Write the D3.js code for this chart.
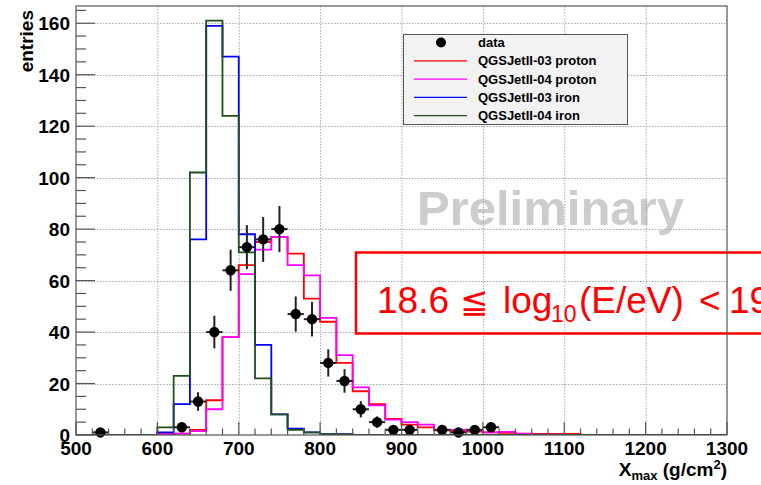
<!DOCTYPE html>
<html>
<head>
<meta charset="utf-8">
<script src="https://cdn.jsdelivr.net/npm/d3@7"></script>
<style>
  body { margin: 0; background: #fff; }
  svg { display: block; }
  .tick-label { font-family: "Liberation Sans", Arial, sans-serif; font-weight: bold; font-size: 19px; fill: #000; }
</style>
</head>
<body>
<script>
// binning of the histograms (g/cm2)
const binWidth = 20;
const histLow = 600; // lower edge of first value in the arrays below

// simulated Xmax distributions, bins 600-620, 620-640, ...
const proton03 = [0.3, 0.5, 2, 13.5, 38, 66, 75, 77, 70.5, 53, 44, 28, 17, 12, 6.3, 4, 3, 1.8, 1.5, 1.3, 1, 0.8, 0.5, 0.4, 0.4, 0.4];
const proton04 = [0.2, 0.5, 1.5, 10, 38, 62.5, 72, 77, 66, 62, 45.5, 31, 18.5, 11.5, 6, 5, 4, 2, 2, 1.7, 1, 1.2, 0.4, 0.1, 0.1, 0];
const iron03 = [1, 12, 76, 159, 147, 78, 35, 8, 2.5, 1, 0.3, 0.3];
const iron04 = [3, 23, 102, 161, 124, 71, 22, 8, 2, 1, 0.3, 0.2];

// data points (bin centres and entries)
const dataX = [530, 630, 650, 670, 690, 710, 730, 750, 770, 790, 810, 830, 850, 870, 890, 910, 950, 970, 990, 1010];
const dataN = [1, 3, 13, 40, 64, 73, 76, 80, 47, 45, 28, 21, 10, 5, 2, 2, 2, 1, 2, 3];

const xTicks = [500, 600, 700, 800, 900, 1000, 1100, 1200, 1300];
const yTicks = [0, 20, 40, 60, 80, 100, 120, 140, 160];

const series = [
  { name: "QGSJetII-03 proton", values: proton03, color: "#ff0000" },
  { name: "QGSJetII-04 proton", values: proton04, color: "#ff00ff" },
  { name: "QGSJetII-03 iron", values: iron03, color: "#0000ff" },
  { name: "QGSJetII-04 iron", values: iron04, color: "#1f4f1f" }
];

const W = 761, H = 485;
const frame = { left: 76, right: 727, top: 6, bottom: 435 };

const x = d3.scaleLinear().domain([500, 1300]).range([frame.left, frame.right]);
const y = d3.scaleLinear().domain([0, 166.7]).range([frame.bottom, frame.top]);

const svg = d3.select("body").append("svg")
  .attr("width", W).attr("height", H);

svg.append("defs").append("clipPath").attr("id", "plot")
  .append("rect")
  .attr("x", frame.left).attr("y", frame.top)
  .attr("width", frame.right - frame.left).attr("height", frame.bottom - frame.top);

// watermark
svg.append("text")
  .attr("x", 417).attr("y", 225)
  .attr("font-family", "Liberation Sans, Arial, sans-serif")
  .attr("font-weight", "bold")
  .attr("font-size", 49)
  .attr("fill", "#cccccc")
  .text("Preliminary");

// dotted grid
const grid = svg.append("g").attr("stroke", "#a8a8a8").attr("stroke-width", 1).attr("stroke-dasharray", "1.5,1.5");
grid.selectAll(".gx").data(xTicks.slice(1, -1)).join("line")
  .attr("x1", d => x(d) + 0.5).attr("x2", d => x(d) + 0.5)
  .attr("y1", frame.top).attr("y2", frame.bottom);
grid.selectAll(".gy").data(yTicks.slice(1)).join("line")
  .attr("x1", frame.left).attr("x2", frame.right)
  .attr("y1", d => Math.round(y(d)) + 0.5).attr("y2", d => Math.round(y(d)) + 0.5);

// histograms as step lines over the full axis range
const nBins = (1300 - 500) / binWidth;
const offset = (histLow - 500) / binWidth;
const stepLine = d3.line().x(d => x(d[0])).y(d => y(d[1])).curve(d3.curveStepAfter);

const hists = svg.append("g").attr("clip-path", "url(#plot)");
series.forEach(function (s) {
  let full = d3.range(nBins).map(i => [500 + i * binWidth, s.values[i - offset] || 0]);
  full.push([1300, full[full.length - 1][1]]);
  hists.append("path")
    .datum(full)
    .attr("d", stepLine)
    .attr("fill", "none")
    .attr("stroke", s.color)
    .attr("stroke-width", 1.8);
});

// data with errors
const points = dataX.map((d, i) => ({ x: d, n: dataN[i] }));
const pts = svg.append("g");
pts.selectAll(".ex").data(points).join("line")
  .attr("x1", d => x(d.x - binWidth / 2)).attr("x2", d => x(d.x + binWidth / 2))
  .attr("y1", d => y(d.n)).attr("y2", d => y(d.n))
  .attr("stroke", "#222").attr("stroke-width", 2);
pts.selectAll(".ey").data(points).join("line")
  .attr("x1", d => x(d.x)).attr("x2", d => x(d.x))
  .attr("y1", d => y(d.n + Math.sqrt(d.n))).attr("y2", d => y(Math.max(0, d.n - Math.sqrt(d.n))))
  .attr("stroke", "#222").attr("stroke-width", 2);
pts.selectAll("circle").data(points).join("circle")
  .attr("cx", d => x(d.x)).attr("cy", d => y(d.n))
  .attr("r", 5.2).attr("fill", "#000");

// legend
const leg = svg.append("g").attr("font-family", "Liberation Sans, Arial, sans-serif")
  .attr("font-weight", "bold").attr("font-size", 13);
leg.append("rect")
  .attr("x", 403.5).attr("y", 34.5).attr("width", 224).attr("height", 90)
  .attr("fill", "#f2f2f2").attr("stroke", "#555").attr("stroke-width", 1);
const legRows = [{ name: "data", color: "#000", marker: true }].concat(series);
legRows.forEach(function (r, i) {
  const ly = 42.5 + i * 18.3;
  if (r.marker) {
    leg.append("circle").attr("cx", 441).attr("cy", ly).attr("r", 5).attr("fill", "#000");
  } else {
    leg.append("line").attr("x1", 414).attr("x2", 467).attr("y1", ly).attr("y2", ly)
      .attr("stroke", r.color).attr("stroke-width", 1.2);
  }
  leg.append("text").attr("x", 478).attr("y", ly).attr("dy", "0.36em").attr("fill", "#000").text(r.name);
});

// ticks (inside the frame)
const tk = svg.append("g").attr("stroke", "#555").attr("stroke-width", 1.2);
const xMinor = d3.range(500, 1301, 20).filter(d => d % 100 !== 0);
const yMinor = d3.range(0, 167, 5).filter(d => d % 20 !== 0);
tk.selectAll(".xM").data(xTicks).join("line")
  .attr("x1", d => x(d)).attr("x2", d => x(d)).attr("y1", frame.bottom).attr("y2", frame.bottom - 13);
tk.selectAll(".xm").data(xMinor).join("line")
  .attr("x1", d => x(d)).attr("x2", d => x(d)).attr("y1", frame.bottom).attr("y2", frame.bottom - 6.5);
tk.selectAll(".yM").data(yTicks).join("line")
  .attr("x1", frame.left).attr("x2", frame.left + 19).attr("y1", d => y(d)).attr("y2", d => y(d));
tk.selectAll(".ym").data(yMinor).join("line")
  .attr("x1", frame.left).attr("x2", frame.left + 10).attr("y1", d => y(d)).attr("y2", d => y(d));

// red energy box
svg.append("rect")
  .attr("x", 356).attr("y", 252.5).attr("width", 460).attr("height", 81)
  .attr("fill", "none").attr("stroke", "#ff0000").attr("stroke-width", 2.5);
const etext = svg.append("text")
  .attr("y", 313)
  .attr("font-family", "Liberation Sans, Arial, sans-serif")
  .attr("font-size", 37)
  .attr("fill", "#ff0000");
etext.append("tspan").attr("x", 377).text("18.6");
etext.append("tspan").attr("x", 460).attr("font-size", 34).text("\u2266");
etext.append("tspan").attr("x", 503).text("log");
etext.append("tspan").attr("x", 551).attr("y", 322).attr("font-size", 23).text("10");
etext.append("tspan").attr("x", 579).attr("y", 313).text("(E/eV)");
etext.append("tspan").attr("x", 699).text("<");
etext.append("tspan").attr("x", 729).text("19");

// frame
svg.append("rect")
  .attr("x", frame.left).attr("y", frame.top)
  .attr("width", frame.right - frame.left).attr("height", frame.bottom - frame.top)
  .attr("fill", "none").attr("stroke", "#555").attr("stroke-width", 1.2);

// tick labels
svg.selectAll(".xl").data(xTicks).join("text")
  .attr("class", "tick-label")
  .attr("x", d => x(d)).attr("y", 455)
  .attr("text-anchor", "middle")
  .text(d => d);
svg.selectAll(".yl").data(yTicks).join("text")
  .attr("class", "tick-label")
  .attr("x", 70).attr("y", d => y(d) + 7)
  .attr("text-anchor", "end")
  .text(d => d);

// axis titles
svg.append("text")
  .attr("class", "tick-label")
  .attr("transform", "translate(33,10) rotate(-90)")
  .attr("text-anchor", "end")
  .text("entries");
const xt = svg.append("text")
  .attr("class", "tick-label")
  .attr("x", 727).attr("y", 476)
  .attr("text-anchor", "end");
xt.append("tspan").text("X");
xt.append("tspan").attr("font-size", 13).attr("dy", 4).text("max");
xt.append("tspan").attr("dy", -4).text(" (g/cm");
xt.append("tspan").attr("font-size", 13).attr("dy", -7).text("2");
xt.append("tspan").attr("dy", 7).text(")");
</script>
</body>
</html>
